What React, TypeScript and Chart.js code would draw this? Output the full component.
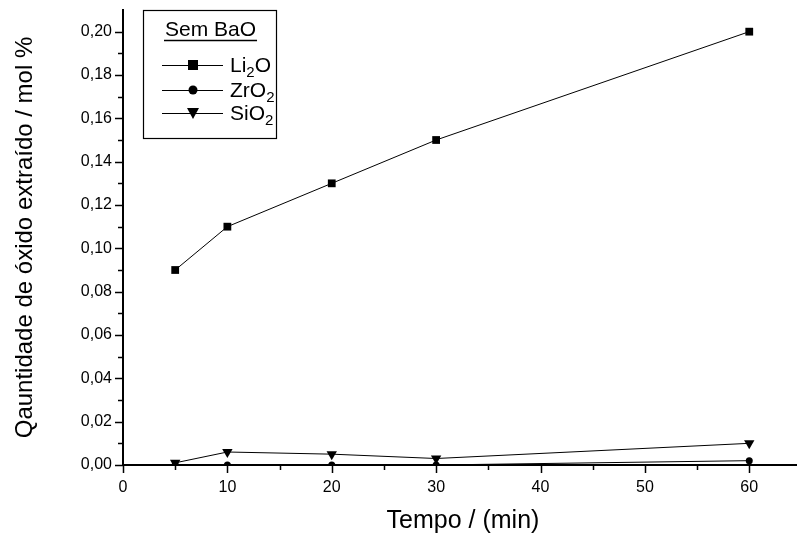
import React, { useEffect, useRef } from "react";
import { Chart, registerables } from "chart.js";

Chart.register(...registerables);

const times = [5, 10, 20, 30, 60];
const li2o = [0.09, 0.11, 0.13, 0.15, 0.2];
const zro2 = [0, 0, 0, 0, 0.002];
const sio2 = [0.001, 0.006, 0.005, 0.003, 0.01];
const xMajor = [0, 10, 20, 30, 40, 50, 60];
const xMinor = [5, 15, 25, 35, 45, 55];
const yMajor = [0, 0.02, 0.04, 0.06, 0.08, 0.1, 0.12, 0.14, 0.16, 0.18, 0.2];
const yMinor = [0.01, 0.03, 0.05, 0.07, 0.09, 0.11, 0.13, 0.15, 0.17, 0.19];
const xTitle = "Tempo / (min)";
const yTitle = "Qauntidade de óxido extraído / mol %";
const legendTitle = "Sem BaO";
const legendItems = [
  { base: "Li", sub: "2", tail: "O", style: "rect" },
  { base: "ZrO", sub: "2", tail: "", style: "circle" },
  { base: "SiO", sub: "2", tail: "", style: "triangle" },
];
const FONT = "'Liberation Sans', Arial, sans-serif";

const tickPlugin = {
  id: "customTicks",
  afterDraw(chart: any) {
    const ctx = chart.ctx;
    const xs = chart.scales.x;
    const ys = chart.scales.y;
    const y0 = ys.getPixelForValue(0);
    const x0 = xs.getPixelForValue(0);
    ctx.save();
    ctx.strokeStyle = "#000";
    // extend x axis line to the canvas edge
    ctx.lineWidth = 2;
    ctx.beginPath();
    ctx.moveTo(xs.right - 1, y0);
    ctx.lineTo(chart.width, y0);
    ctx.stroke();
    ctx.lineWidth = 1.5;
    ctx.beginPath();
    xMajor.forEach((v) => {
      const p = Math.round(xs.getPixelForValue(v)) + 0.5;
      ctx.moveTo(p, y0);
      ctx.lineTo(p, y0 + 8);
    });
    xMinor.forEach((v) => {
      const p = Math.round(xs.getPixelForValue(v)) + 0.5;
      ctx.moveTo(p, y0);
      ctx.lineTo(p, y0 + 5);
    });
    yMajor.forEach((v) => {
      const p = Math.round(ys.getPixelForValue(v)) + 0.5;
      ctx.moveTo(x0, p);
      ctx.lineTo(x0 - 8, p);
    });
    yMinor.forEach((v) => {
      const p = Math.round(ys.getPixelForValue(v)) + 0.5;
      ctx.moveTo(x0, p);
      ctx.lineTo(x0 - 5, p);
    });
    ctx.stroke();

    // x title
    ctx.fillStyle = "#000";
    ctx.font = `25px ${FONT}`;
    ctx.textAlign = "center";
    ctx.textBaseline = "alphabetic";
    ctx.fillText(xTitle, 463, 528);

    // legend
    const bx = 143, by = 10, bw = 133, bh = 128;
    ctx.lineWidth = 1.2;
    ctx.strokeRect(bx + 0.5, by + 0.5, bw, bh);
    ctx.font = `21px ${FONT}`;
    ctx.textAlign = "left";
    ctx.fillText(legendTitle, 165, 36);
    const tw = ctx.measureText(legendTitle).width;
    ctx.lineWidth = 1.5;
    ctx.beginPath();
    ctx.moveTo(164, 40.5);
    ctx.lineTo(166 + tw, 40.5);
    ctx.stroke();
    const rows = [65, 90, 113];
    legendItems.forEach((it, i) => {
      const cy = rows[i];
      ctx.lineWidth = 1;
      ctx.beginPath();
      ctx.moveTo(162, cy + 0.5);
      ctx.lineTo(223, cy + 0.5);
      ctx.stroke();
      ctx.beginPath();
      if (it.style === "rect") {
        ctx.fillRect(188, cy - 5, 10, 10);
      } else if (it.style === "circle") {
        ctx.arc(193, cy, 4.5, 0, Math.PI * 2);
        ctx.fill();
      } else {
        ctx.moveTo(187, cy - 5);
        ctx.lineTo(199, cy - 5);
        ctx.lineTo(193, cy + 6);
        ctx.closePath();
        ctx.fill();
      }
      ctx.font = `21px ${FONT}`;
      let x = 230;
      const base = cy + 7;
      ctx.fillText(it.base, x, base);
      x += ctx.measureText(it.base).width;
      ctx.font = `15px ${FONT}`;
      ctx.fillText(it.sub, x, base + 5);
      x += ctx.measureText(it.sub).width;
      ctx.font = `21px ${FONT}`;
      if (it.tail) ctx.fillText(it.tail, x, base);
    });
    ctx.restore();
  },
};

export default function App() {
  const ref = useRef<HTMLCanvasElement>(null);
  useEffect(() => {
    document.body.style.margin = "0";
    const ds = (label: string, data: number[], style: any, r: number, rot = 0) => ({
      label,
      data: times.map((t, i) => ({ x: t, y: data[i] })),
      borderColor: "#000",
      backgroundColor: "#000",
      borderWidth: 1,
      pointStyle: style,
      pointRadius: r,
      pointRotation: rot,
      pointBorderWidth: 0,
      tension: 0,
    });
    const chart = new Chart(ref.current!, {
      type: "line",
      data: {
        datasets: [
          ds("Li2O", li2o, "rect", 5.5),
          ds("ZrO2", zro2, "circle", 3.5),
          ds("SiO2", sio2, "triangle", 6, 180),
        ],
      },
      options: {
        animation: false,
        responsive: false,
        layout: { padding: { top: 10, right: 0, left: 0, bottom: 0 } },
        plugins: { legend: { display: false }, tooltip: { enabled: false } },
        scales: {
          x: {
            type: "linear",
            min: 0,
            max: 64,
            afterBuildTicks: (s: any) => {
              s.ticks = xMajor.map((v) => ({ value: v }));
            },
            afterFit: (s: any) => {
              s.height = 70;
              s.paddingLeft = 0;
              s.paddingRight = 0;
            },
            grid: { display: false, drawTicks: false },
            border: { display: true, color: "#000", width: 2 },
            ticks: {
              color: "#000",
              font: { family: FONT, size: 16 },
              padding: 13,
              maxRotation: 0,
            },
            title: { display: false, text: xTitle },
          },
          y: {
            type: "linear",
            min: 0,
            max: 0.21,
            afterBuildTicks: (s: any) => {
              s.ticks = yMajor.map((v) => ({ value: v }));
            },
            afterFit: (s: any) => {
              s.width = 123;
              s.paddingTop = 0;
              s.paddingBottom = 0;
            },
            grid: { display: false, drawTicks: false },
            border: { display: true, color: "#000", width: 2 },
            ticks: {
              color: "#000",
              font: { family: FONT, size: 16 },
              padding: 11,
              callback: (v: any) => Number(v).toFixed(2).replace(".", ","),
            },
            title: {
              display: true,
              text: yTitle,
              color: "#000",
              font: { family: FONT, size: 24 },
              padding: { top: 11, bottom: 14 },
            },
          },
        },
      },
      plugins: [tickPlugin],
    } as any);
    return () => chart.destroy();
  }, []);
  return <canvas ref={ref} width={797} height={535} style={{ display: "block" }} />;
}
